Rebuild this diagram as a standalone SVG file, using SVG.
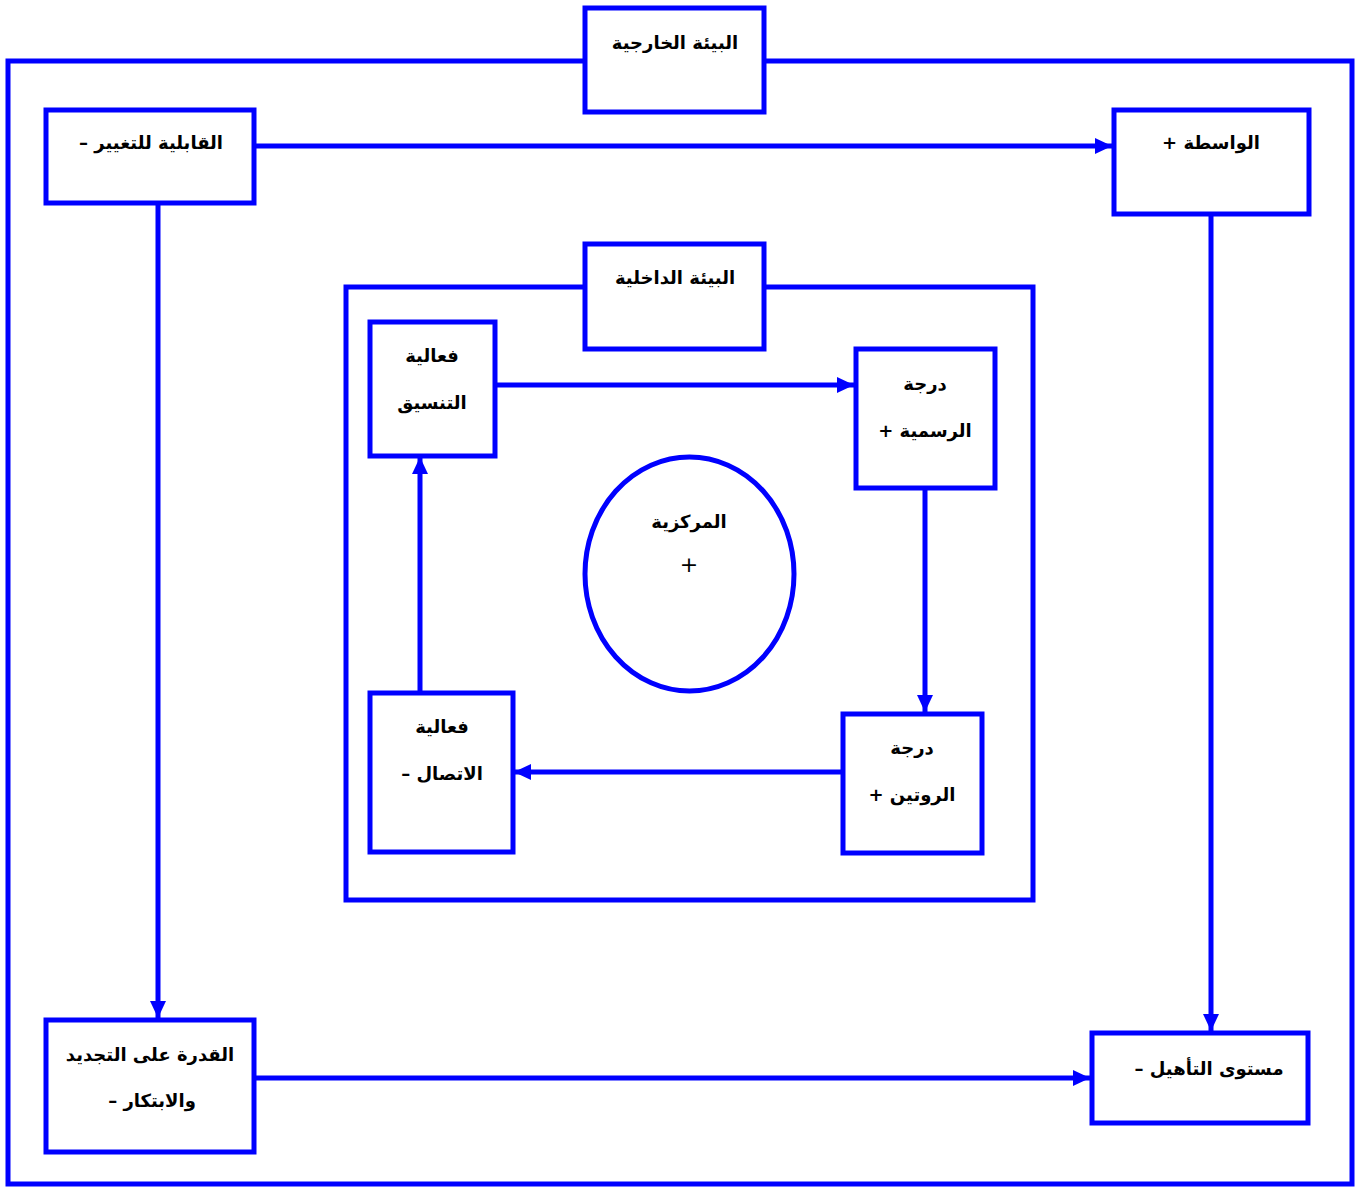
<svg xmlns="http://www.w3.org/2000/svg" width="1358" height="1187" viewBox="0 0 1358 1187">
<style>
.box{fill:#fff;stroke:#0000ff;stroke-width:5}
.frame{fill:none;stroke:#0000ff;stroke-width:5}
.con{fill:none;stroke:#0000ff;stroke-width:5}
.t{font-family:"DejaVu Sans",sans-serif;font-weight:bold;font-size:18px;fill:#000;text-anchor:middle;direction:rtl}
.p{font-family:"DejaVu Sans",sans-serif;font-size:22px;fill:#000;text-anchor:middle}
</style>
<defs>
<marker id="ah" markerUnits="userSpaceOnUse" markerWidth="18" markerHeight="18" refX="17" refY="9" orient="auto">
<path d="M0,1 L17,9 L0,17 Z" fill="#0000ff"/>
</marker>
</defs>
<rect x="8" y="61" width="1344" height="1123" class="frame"/>
<rect x="346" y="287" width="687" height="613" class="frame"/>
<g id="connectors">
<line x1="256" y1="146" x2="1112" y2="146" class="con" marker-end="url(#ah)"/>
<line x1="158" y1="204" x2="158" y2="1018" class="con" marker-end="url(#ah)"/>
<line x1="1211" y1="215" x2="1211" y2="1031" class="con" marker-end="url(#ah)"/>
<line x1="256" y1="1078" x2="1090" y2="1078" class="con" marker-end="url(#ah)"/>
<line x1="496" y1="385" x2="854" y2="385" class="con" marker-end="url(#ah)"/>
<line x1="925" y1="489" x2="925" y2="712" class="con" marker-end="url(#ah)"/>
<line x1="841" y1="772" x2="514" y2="772" class="con" marker-end="url(#ah)"/>
<line x1="420" y1="691" x2="420" y2="457" class="con" marker-end="url(#ah)"/>
</g>
<g id="external">
<rect x="585" y="8" width="179" height="104" class="box"/>
<text x="675" y="49" class="t">البيئة الخارجية</text>
</g>
<g id="changeability">
<rect x="46" y="110" width="208" height="93" class="box"/>
<text x="151" y="149" class="t">القابلية للتغيير –</text>
</g>
<g id="wasta">
<rect x="1114" y="110" width="195" height="104" class="box"/>
<text x="1211" y="149" class="t">الواسطة +</text>
</g>
<g id="renewal">
<rect x="46" y="1020" width="208" height="132" class="box"/>
<text x="150" y="1061" class="t">القدرة على التجديد</text>
<text x="152" y="1107" class="t">والابتكار –</text>
</g>
<g id="qualification">
<rect x="1092" y="1033" width="216" height="90" class="box"/>
<text x="1209" y="1075" class="t">مستوى التأهيل –</text>
</g>
<g id="internal">
<rect x="585" y="244" width="179" height="105" class="box"/>
<text x="675" y="284" class="t">البيئة الداخلية</text>
</g>
<g id="coordination">
<rect x="370" y="322" width="125" height="134" class="box"/>
<text x="432" y="362" class="t">فعالية</text>
<text x="432" y="409" class="t">التنسيق</text>
</g>
<g id="formality">
<rect x="856" y="349" width="139" height="139" class="box"/>
<text x="925" y="390" class="t">درجة</text>
<text x="925" y="437" class="t">الرسمية +</text>
</g>
<g id="routine">
<rect x="843" y="714" width="139" height="139" class="box"/>
<text x="912" y="754" class="t">درجة</text>
<text x="912" y="801" class="t">الروتين +</text>
</g>
<g id="communication">
<rect x="370" y="693" width="143" height="159" class="box"/>
<text x="442" y="733" class="t">فعالية</text>
<text x="442" y="780" class="t">الاتصال –</text>
</g>
<g id="centralization">
<ellipse cx="689.5" cy="574" rx="104.5" ry="117" class="box"/>
<text x="689" y="528" class="t">المركزية</text>
<text x="689" y="572" class="p">+</text>
</g>
</svg>
